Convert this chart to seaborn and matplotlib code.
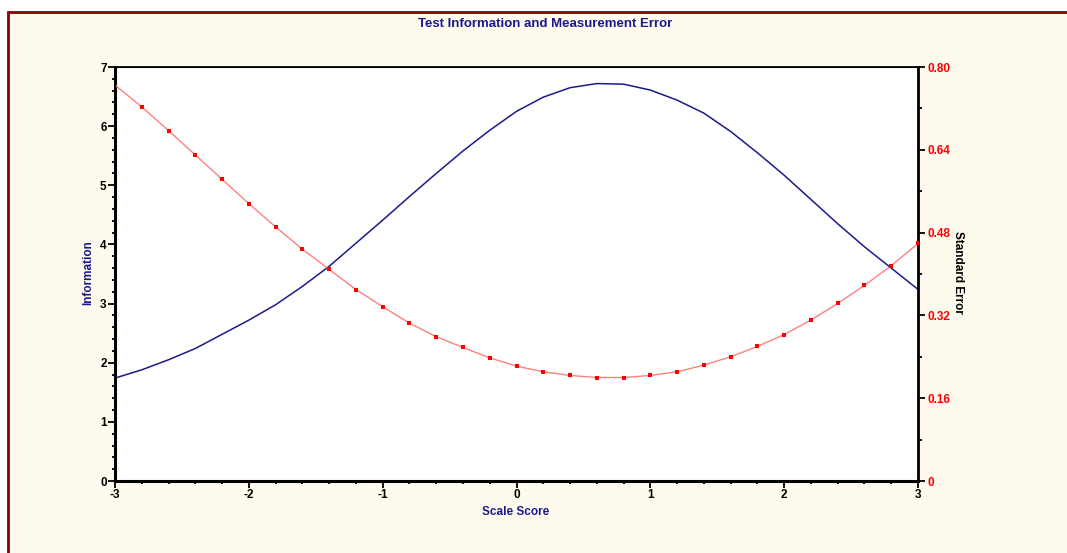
import numpy as np
import pandas as pd
import seaborn as sns
import matplotlib.pyplot as plt
from matplotlib.patches import Rectangle
from matplotlib.ticker import MultipleLocator

scale_score = [-3.0, -2.8, -2.6, -2.4, -2.2, -2.0, -1.8, -1.6, -1.4, -1.2, -1.0,
               -0.8, -0.6, -0.4, -0.2, 0.0, 0.2, 0.4, 0.6, 0.8, 1.0,
               1.2, 1.4, 1.6, 1.8, 2.0, 2.2, 2.4, 2.6, 2.8, 3.0]
information = [1.74, 1.88, 2.05, 2.24, 2.48, 2.72, 2.98, 3.29, 3.63, 4.02, 4.41,
               4.81, 5.20, 5.58, 5.93, 6.25, 6.49, 6.65, 6.72, 6.71, 6.61,
               6.44, 6.22, 5.91, 5.55, 5.17, 4.76, 4.35, 3.96, 3.60, 3.24]
std_error = [0.765, 0.723, 0.677, 0.630, 0.583, 0.536, 0.491, 0.448, 0.409, 0.370, 0.337,
             0.305, 0.279, 0.258, 0.238, 0.222, 0.211, 0.204, 0.200, 0.200, 0.204,
             0.211, 0.224, 0.240, 0.260, 0.283, 0.311, 0.343, 0.378, 0.416, 0.459]

df = pd.DataFrame({'score': scale_score, 'info': information, 'se': std_error})

plt.rcParams['font.family'] = ['Liberation Sans', 'DejaVu Sans']
plt.rcParams['font.weight'] = 'bold'
plt.rcParams['axes.unicode_minus'] = False

navy = '#1a1a8c'
cream = '#fefaee'

fig = plt.figure(figsize=(10.67, 5.53), dpi=100)
fig.patch.set_facecolor('white')
# framed panel (cropped at right and bottom)
frame = Rectangle((8 / 1067, -0.1), 1.2, (553 - 12) / 553 + 0.1,
                  transform=fig.transFigure, facecolor=cream,
                  edgecolor='#8b0000', linewidth=2, zorder=-10)
fig.add_artist(frame)

ax = fig.add_axes([115 / 1067, 72 / 553, 803 / 1067, 414 / 553])
ax.set_facecolor('white')
sns.lineplot(data=df, x='score', y='info', ax=ax, color=navy, linewidth=1.1)
ax.set_xlim(-3, 3)
ax.set_ylim(0, 7)
ax.xaxis.set_major_locator(MultipleLocator(1))
ax.xaxis.set_minor_locator(MultipleLocator(0.2))
ax.yaxis.set_major_locator(MultipleLocator(1))
ax.yaxis.set_minor_locator(MultipleLocator(0.2))
ax.tick_params(which='major', length=5, width=1.3, labelsize=8.5, pad=1)
ax.tick_params(which='minor', length=2.5, width=1.3)
for lab in ax.get_xticklabels() + ax.get_yticklabels():
    lab.set_fontweight('bold')
ax.spines['left'].set_linewidth(2.2)
ax.spines['bottom'].set_linewidth(2.2)
ax.spines['top'].set_linewidth(1.3)
ax.set_xlabel('')
ax.set_ylabel('')

ax2 = ax.twinx()
sns.lineplot(data=df, x='score', y='se', ax=ax2, color='#ff8080', linewidth=1)
sns.scatterplot(data=df.iloc[1:], x='score', y='se', ax=ax2, color='red',
                s=5, marker='s', linewidth=0, zorder=3)
ax2.set_ylim(0, 0.8)
ax2.yaxis.set_minor_locator(MultipleLocator(0.08))
ax2.set_yticks([0, 0.16, 0.32, 0.48, 0.64, 0.80])
ax2.set_yticklabels(['0', '0.16', '0.32', '0.48', '0.64', '0.80'],
                    color='red', fontweight='bold')
ax2.tick_params(which='major', length=5, width=1.3, labelsize=8.5, pad=2)
ax2.tick_params(which='minor', length=3, width=1.3)
ax2.spines['right'].set_linewidth(2)
ax2.set_ylabel('')
ax2.set_xlabel('')
ax2.set_xlim(-3, 3)

fig.text(545 / 1067, 1 - 24 / 553, 'Test Information and Measurement Error',
         ha='center', va='center', color=navy, fontsize=9.5, fontweight='bold')
fig.text(516 / 1067, 1 - 512 / 553, 'Scale Score', ha='center', va='center',
         color=navy, fontsize=8.5, fontweight='bold')
fig.text(88 / 1067, 1 - 273 / 553, 'Information', ha='center', va='center',
         rotation=90, color=navy, fontsize=8.5, fontweight='bold')
fig.text(958 / 1067, 1 - 272 / 553, 'Standard Error', ha='center', va='center',
         rotation=-90, color='black', fontsize=8.5, fontweight='bold')

fig.savefig('out.png', dpi=100, facecolor=fig.get_facecolor())
